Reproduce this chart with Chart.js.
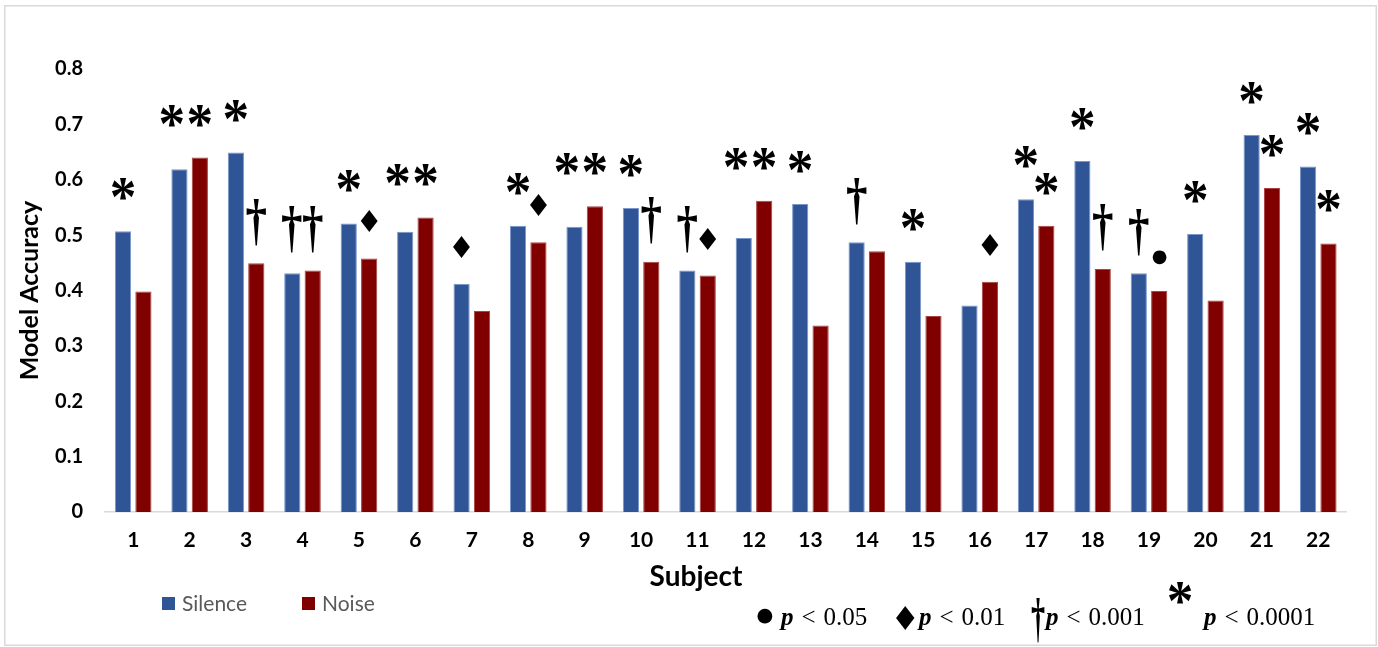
<!DOCTYPE html>
<html>
<head>
<meta charset="utf-8">
<script src="https://cdn.jsdelivr.net/npm/chart.js@4.4.1/dist/chart.umd.min.js"></script>
<style>
  html, body { margin: 0; padding: 0; background: #fff; }
  #wrap { position: relative; width: 1378px; height: 647px; }
</style>
</head>
<body>
<div id="wrap"><canvas id="chart" width="1378" height="647"></canvas></div>
<script>
// Subjects on the x axis
const subjects = ['1','2','3','4','5','6','7','8','9','10','11','12','13','14','15','16','17','18','19','20','21','22'];

// Model accuracy per subject
const silence = [0.507, 0.619, 0.649, 0.431, 0.521, 0.506, 0.412, 0.517, 0.515, 0.549, 0.436,
                 0.495, 0.556, 0.487, 0.452, 0.373, 0.565, 0.634, 0.431, 0.502, 0.681, 0.624];
const noise   = [0.398, 0.640, 0.449, 0.436, 0.458, 0.532, 0.363, 0.487, 0.552, 0.452, 0.427,
                 0.562, 0.337, 0.471, 0.354, 0.416, 0.517, 0.439, 0.399, 0.382, 0.585, 0.485];

// Significance level per bar: 0 none, 1 p<0.05, 2 p<0.01, 3 p<0.001, 4 p<0.0001
const silenceSig = [4, 4, 4, 3, 4, 4, 2, 4, 4, 4, 3, 4, 4, 3, 4, 0, 4, 4, 3, 4, 4, 4];
const noiseSig   = [0, 4, 3, 3, 2, 4, 0, 2, 4, 3, 2, 4, 0, 0, 0, 2, 4, 3, 1, 0, 4, 4];

// Y axis ticks
const yTicks = [0, 0.1, 0.2, 0.3, 0.4, 0.5, 0.6, 0.7, 0.8];

// Key entries for the significance symbols
const keyLevels = [1, 2, 3, 4];
const keyTexts  = ['0.05', '0.01', '0.001', '0.0001'];

const BLUE = '#2F5597';
const RED = '#800000';

// Glyph used for each significance level: ink height / width, gap above the bar,
// and side padding kept when two marks share a line
const glyphs = {
  4: { ch: '*', font: s => `bold ${s}px "Liberation Serif"`, h: 22, w: 23, gap: 42, pad: 2.5 },
  3: { ch: '\u2020', font: s => `bold ${s}px "Liberation Serif"`, h: 47, w: 20, gap: 41, pad: 0.5 },
  2: { ch: '\u2666', font: s => `${s}px "DejaVu Sans"`, h: 22, w: 0, gap: 37, pad: 1 },
  1: { ch: '\u25CF', font: s => `${s}px "DejaVu Sans"`, h: 14, w: 0, gap: 34, pad: 1 }
};

// Draw a glyph with its ink box centred on (cx, cy), scaled to height h (and width w if given)
function drawGlyph(ctx, level, cx, cy, h, w) {
  const g = glyphs[level];
  ctx.font = g.font(100);
  const m0 = ctx.measureText(g.ch);
  const size = 100 * h / (m0.actualBoundingBoxAscent + m0.actualBoundingBoxDescent);
  ctx.font = g.font(size);
  const m = ctx.measureText(g.ch);
  const inkW = m.actualBoundingBoxRight + m.actualBoundingBoxLeft;
  const sx = w ? w / inkW : 1;
  ctx.save();
  ctx.translate(cx, cy);
  ctx.scale(sx, 1);
  ctx.textAlign = 'left';
  ctx.textBaseline = 'alphabetic';
  ctx.fillText(g.ch, -(m.actualBoundingBoxRight - m.actualBoundingBoxLeft) / 2,
               (m.actualBoundingBoxAscent - m.actualBoundingBoxDescent) / 2);
  ctx.restore();
}

function inkWidth(level) {
  return glyphs[level].w || glyphs[level].h * 0.8;
}

const decorations = {
  id: 'decorations',
  beforeDraw(chart) {
    const ctx = chart.ctx;
    ctx.save();
    ctx.fillStyle = '#fff';
    ctx.fillRect(0, 0, chart.width, chart.height);
    ctx.strokeStyle = '#d9d9d9';
    ctx.lineWidth = 1.5;
    ctx.strokeRect(4.75, 5.75, 1371.5, 639.5);
    ctx.restore();
  },
  afterDatasetsDraw(chart) {
    const ctx = chart.ctx;
    const sBars = chart.getDatasetMeta(0).data;
    const nBars = chart.getDatasetMeta(1).data;
    ctx.save();
    ctx.fillStyle = '#000';
    subjects.forEach((_, i) => {
      const s = sBars[i], n = nBars[i];
      const ls = silenceSig[i], ln = noiseSig[i];
      if (ln) {
        const g = glyphs[ln];
        drawGlyph(ctx, ln, n.x, n.y - g.gap, g.h, g.w);
      }
      if (ls) {
        const g = glyphs[ls];
        let x = s.x;
        let top = s.y;
        if (ln && n.y < s.y) {
          // noise bar is taller and marked too: share its line and step left to make room
          top = n.y;
          const sep = (inkWidth(ls) + inkWidth(ln)) / 2 + g.pad + glyphs[ln].pad;
          x = Math.min(s.x, n.x - sep);
        }
        drawGlyph(ctx, ls, x, top - g.gap, g.h, g.w);
      }
    });
    ctx.restore();
  },
  afterDraw(chart) {
    const ctx = chart.ctx;
    ctx.save();
    // x axis title
    ctx.fillStyle = '#000';
    ctx.font = 'bold 28px Lato';
    ctx.textAlign = 'center';
    ctx.textBaseline = 'middle';
    ctx.fillText('Subject', 696, 577);

    // series legend
    const series = [
      { label: chart.data.datasets[0].label, color: BLUE, x: 162 },
      { label: chart.data.datasets[1].label, color: RED, x: 302 }
    ];
    ctx.font = '21px Lato';
    ctx.textAlign = 'left';
    series.forEach(it => {
      ctx.fillStyle = it.color;
      ctx.fillRect(it.x, 597, 13, 13);
      ctx.fillStyle = '#595959';
      ctx.fillText(it.label, it.x + 20, 604);
    });

    // significance key
    const keyPos = [
      { gx: 765, gy: 621, h: 15, w: 0, tx: 781 },
      { gx: 905, gy: 618, h: 24, w: 0, tx: 919 },
      { gx: 1038, gy: 620, h: 44, w: 13, tx: 1046 },
      { gx: 1180, gy: 593, h: 22, w: 23, tx: 1204 }
    ];
    ctx.fillStyle = '#000';
    keyLevels.forEach((lv, k) => {
      const p = keyPos[k];
      drawGlyph(ctx, lv, p.gx, p.gy, p.h, p.w);
      ctx.textAlign = 'left';
      ctx.textBaseline = 'alphabetic';
      ctx.font = 'bold italic 25px "Liberation Serif"';
      ctx.fillText('p', p.tx, 625);
      let x = p.tx + ctx.measureText('p').width + 8;
      ctx.font = '25px "Liberation Serif"';
      ctx.fillText('<', x, 625);
      x += ctx.measureText('<').width + 8;
      ctx.fillText(keyTexts[k], x, 625);
    });
    ctx.restore();
  }
};

new Chart(document.getElementById('chart'), {
  type: 'bar',
  data: {
    labels: subjects,
    datasets: [
      { label: 'Silence', data: silence, backgroundColor: BLUE, borderColor: '#7A97CC', borderWidth: 1,
        categoryPercentage: 0.723, barPercentage: 0.794 },
      { label: 'Noise', data: noise, backgroundColor: RED, borderColor: '#A84444', borderWidth: 1,
        categoryPercentage: 0.723, barPercentage: 0.794 }
    ]
  },
  options: {
    responsive: false,
    devicePixelRatio: 1,
    animation: false,
    layout: { padding: { top: 69, right: 31.5, bottom: 0, left: 0 } },
    plugins: { legend: { display: false }, tooltip: { enabled: false } },
    scales: {
      x: {
        grid: { display: false, drawTicks: false },
        border: { display: true, color: '#d9d9d9', width: 1.5 },
        ticks: { color: '#000', font: { family: 'Lato', weight: 'bold', size: 21 }, padding: 16, maxRotation: 0 },
        afterFit(scale) { scale.height = 135; }
      },
      y: {
        min: 0,
        max: 0.8,
        grid: { display: false, drawTicks: false },
        border: { display: false },
        afterBuildTicks(scale) { scale.ticks = yTicks.map(v => ({ value: v })); },
        ticks: {
          color: '#000',
          font: { family: 'Lato', weight: 'bold', size: 20 },
          padding: 22,
          callback: v => (v === 0 ? '0' : v.toFixed(1))
        },
        title: {
          display: true,
          text: 'Model Accuracy',
          color: '#000',
          font: { family: 'Lato', weight: 'bold', size: 25 },
          padding: { top: 15, bottom: 0 }
        },
        afterFit(scale) { scale.width = 105; }
      }
    }
  },
  plugins: [decorations]
});
</script>
</body>
</html>
